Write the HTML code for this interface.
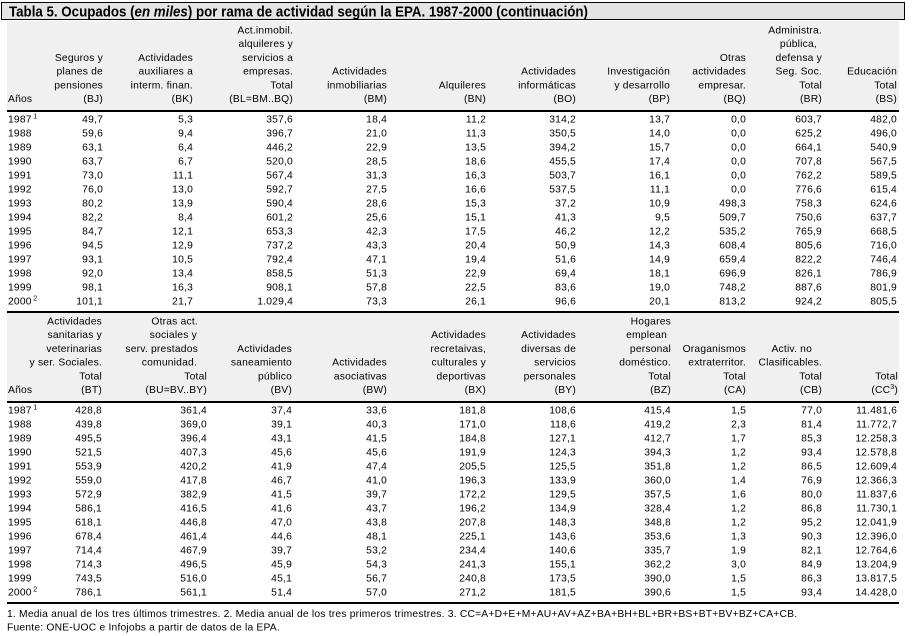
<!DOCTYPE html>
<html><head><meta charset="utf-8"><style>
html,body{margin:0;padding:0;background:#fff;}
svg{display:block;}
text{font-family:"Liberation Sans",Arial,sans-serif;font-size:10.3px;letter-spacing:0.2px;fill:#000;}
.e{text-anchor:end;}
.t{font-weight:bold;font-size:15px;letter-spacing:0;}
</style></head><body>
<svg width="912" height="636" viewBox="0 0 912 636" xmlns="http://www.w3.org/2000/svg">
<rect x="0" y="0" width="912" height="636" fill="#fff"/>
<rect x="1.5" y="2.5" width="903" height="17" fill="#e4e4e4" stroke="#000" stroke-width="1"/>
<text class="t" x="9" y="16.5" textLength="579" lengthAdjust="spacingAndGlyphs">Tabla 5. Ocupados (<tspan font-style="italic">en miles</tspan>) por rama de actividad según la EPA. 1987-2000 (continuación)</text>
<rect x="7" y="21" width="892" height="89" fill="#f0f0f0"/>
<rect x="7" y="313" width="892" height="88" fill="#f0f0f0"/>
<rect x="7" y="110" width="892" height="2" fill="#000"/>
<rect x="7" y="311" width="892" height="2" fill="#000"/>
<rect x="7" y="401" width="892" height="2" fill="#000"/>
<rect x="7" y="602" width="892" height="2" fill="#000"/>

<g>
<text x="8" y="102">Años</text>
<text class="e" x="103" y="60.9">Seguros y</text>
<text class="e" x="103" y="74.6">planes de</text>
<text class="e" x="103" y="88.3">pensiones</text>
<text class="e" x="103" y="102">(BJ)</text>
<text class="e" x="193" y="60.9">Actividades</text>
<text class="e" x="193" y="74.6">auxiliares a</text>
<text class="e" x="193" y="88.3">interm. finan.</text>
<text class="e" x="193" y="102">(BK)</text>
<text class="e" x="293" y="33.5">Act.inmobil.</text>
<text class="e" x="293" y="47.2">alquileres y</text>
<text class="e" x="293" y="60.9">servicios a</text>
<text class="e" x="293" y="74.6">empresas.</text>
<text class="e" x="293" y="88.3">Total</text>
<text class="e" x="293" y="102">(BL=BM..BQ)</text>
<text class="e" x="387" y="74.6">Actividades</text>
<text class="e" x="387" y="88.3">inmobiliarias</text>
<text class="e" x="387" y="102">(BM)</text>
<text class="e" x="486" y="88.3">Alquileres</text>
<text class="e" x="486" y="102">(BN)</text>
<text class="e" x="576" y="74.6">Actividades</text>
<text class="e" x="576" y="88.3">informáticas</text>
<text class="e" x="576" y="102">(BO)</text>
<text class="e" x="670" y="74.6">Investigación</text>
<text class="e" x="670" y="88.3">y desarrollo</text>
<text class="e" x="670" y="102">(BP)</text>
<text class="e" x="746" y="60.9">Otras</text>
<text class="e" x="746" y="74.6">actividades</text>
<text class="e" x="746" y="88.3">empresar.</text>
<text class="e" x="746" y="102">(BQ)</text>
<text class="e" x="822" y="33.5">Administra.</text>
<text class="e" x="817" y="47.2">pública,</text>
<text class="e" x="822" y="60.9">defensa y</text>
<text class="e" x="822" y="74.6">Seg. Soc.</text>
<text class="e" x="822" y="88.3">Total</text>
<text class="e" x="822" y="102">(BR)</text>
<text class="e" x="897" y="74.6">Educación</text>
<text class="e" x="897" y="88.3">Total</text>
<text class="e" x="897" y="102">(BS)</text>
</g>

<g transform="translate(0,122.5)"><text x="8" y="0">1987<tspan font-size="7" dx="1.5" dy="-4">1</tspan></text><text class="e" x="103" y="0">49,7</text><text class="e" x="193" y="0">5,3</text><text class="e" x="293" y="0">357,6</text><text class="e" x="387" y="0">18,4</text><text class="e" x="486" y="0">11,2</text><text class="e" x="576" y="0">314,2</text><text class="e" x="670" y="0">13,7</text><text class="e" x="746" y="0">0,0</text><text class="e" x="822" y="0">603,7</text><text class="e" x="897" y="0">482,0</text></g>
<g transform="translate(0,136.5)"><text x="8" y="0">1988</text><text class="e" x="103" y="0">59,6</text><text class="e" x="193" y="0">9,4</text><text class="e" x="293" y="0">396,7</text><text class="e" x="387" y="0">21,0</text><text class="e" x="486" y="0">11,3</text><text class="e" x="576" y="0">350,5</text><text class="e" x="670" y="0">14,0</text><text class="e" x="746" y="0">0,0</text><text class="e" x="822" y="0">625,2</text><text class="e" x="897" y="0">496,0</text></g>
<g transform="translate(0,150.5)"><text x="8" y="0">1989</text><text class="e" x="103" y="0">63,1</text><text class="e" x="193" y="0">6,4</text><text class="e" x="293" y="0">446,2</text><text class="e" x="387" y="0">22,9</text><text class="e" x="486" y="0">13,5</text><text class="e" x="576" y="0">394,2</text><text class="e" x="670" y="0">15,7</text><text class="e" x="746" y="0">0,0</text><text class="e" x="822" y="0">664,1</text><text class="e" x="897" y="0">540,9</text></g>
<g transform="translate(0,164.5)"><text x="8" y="0">1990</text><text class="e" x="103" y="0">63,7</text><text class="e" x="193" y="0">6,7</text><text class="e" x="293" y="0">520,0</text><text class="e" x="387" y="0">28,5</text><text class="e" x="486" y="0">18,6</text><text class="e" x="576" y="0">455,5</text><text class="e" x="670" y="0">17,4</text><text class="e" x="746" y="0">0,0</text><text class="e" x="822" y="0">707,8</text><text class="e" x="897" y="0">567,5</text></g>
<g transform="translate(0,178.5)"><text x="8" y="0">1991</text><text class="e" x="103" y="0">73,0</text><text class="e" x="193" y="0">11,1</text><text class="e" x="293" y="0">567,4</text><text class="e" x="387" y="0">31,3</text><text class="e" x="486" y="0">16,3</text><text class="e" x="576" y="0">503,7</text><text class="e" x="670" y="0">16,1</text><text class="e" x="746" y="0">0,0</text><text class="e" x="822" y="0">762,2</text><text class="e" x="897" y="0">589,5</text></g>
<g transform="translate(0,192.5)"><text x="8" y="0">1992</text><text class="e" x="103" y="0">76,0</text><text class="e" x="193" y="0">13,0</text><text class="e" x="293" y="0">592,7</text><text class="e" x="387" y="0">27,5</text><text class="e" x="486" y="0">16,6</text><text class="e" x="576" y="0">537,5</text><text class="e" x="670" y="0">11,1</text><text class="e" x="746" y="0">0,0</text><text class="e" x="822" y="0">776,6</text><text class="e" x="897" y="0">615,4</text></g>
<g transform="translate(0,206.5)"><text x="8" y="0">1993</text><text class="e" x="103" y="0">80,2</text><text class="e" x="193" y="0">13,9</text><text class="e" x="293" y="0">590,4</text><text class="e" x="387" y="0">28,6</text><text class="e" x="486" y="0">15,3</text><text class="e" x="576" y="0">37,2</text><text class="e" x="670" y="0">10,9</text><text class="e" x="746" y="0">498,3</text><text class="e" x="822" y="0">758,3</text><text class="e" x="897" y="0">624,6</text></g>
<g transform="translate(0,220.5)"><text x="8" y="0">1994</text><text class="e" x="103" y="0">82,2</text><text class="e" x="193" y="0">8,4</text><text class="e" x="293" y="0">601,2</text><text class="e" x="387" y="0">25,6</text><text class="e" x="486" y="0">15,1</text><text class="e" x="576" y="0">41,3</text><text class="e" x="670" y="0">9,5</text><text class="e" x="746" y="0">509,7</text><text class="e" x="822" y="0">750,6</text><text class="e" x="897" y="0">637,7</text></g>
<g transform="translate(0,234.5)"><text x="8" y="0">1995</text><text class="e" x="103" y="0">84,7</text><text class="e" x="193" y="0">12,1</text><text class="e" x="293" y="0">653,3</text><text class="e" x="387" y="0">42,3</text><text class="e" x="486" y="0">17,5</text><text class="e" x="576" y="0">46,2</text><text class="e" x="670" y="0">12,2</text><text class="e" x="746" y="0">535,2</text><text class="e" x="822" y="0">765,9</text><text class="e" x="897" y="0">668,5</text></g>
<g transform="translate(0,248.5)"><text x="8" y="0">1996</text><text class="e" x="103" y="0">94,5</text><text class="e" x="193" y="0">12,9</text><text class="e" x="293" y="0">737,2</text><text class="e" x="387" y="0">43,3</text><text class="e" x="486" y="0">20,4</text><text class="e" x="576" y="0">50,9</text><text class="e" x="670" y="0">14,3</text><text class="e" x="746" y="0">608,4</text><text class="e" x="822" y="0">805,6</text><text class="e" x="897" y="0">716,0</text></g>
<g transform="translate(0,262.5)"><text x="8" y="0">1997</text><text class="e" x="103" y="0">93,1</text><text class="e" x="193" y="0">10,5</text><text class="e" x="293" y="0">792,4</text><text class="e" x="387" y="0">47,1</text><text class="e" x="486" y="0">19,4</text><text class="e" x="576" y="0">51,6</text><text class="e" x="670" y="0">14,9</text><text class="e" x="746" y="0">659,4</text><text class="e" x="822" y="0">822,2</text><text class="e" x="897" y="0">746,4</text></g>
<g transform="translate(0,276.5)"><text x="8" y="0">1998</text><text class="e" x="103" y="0">92,0</text><text class="e" x="193" y="0">13,4</text><text class="e" x="293" y="0">858,5</text><text class="e" x="387" y="0">51,3</text><text class="e" x="486" y="0">22,9</text><text class="e" x="576" y="0">69,4</text><text class="e" x="670" y="0">18,1</text><text class="e" x="746" y="0">696,9</text><text class="e" x="822" y="0">826,1</text><text class="e" x="897" y="0">786,9</text></g>
<g transform="translate(0,290.5)"><text x="8" y="0">1999</text><text class="e" x="103" y="0">98,1</text><text class="e" x="193" y="0">16,3</text><text class="e" x="293" y="0">908,1</text><text class="e" x="387" y="0">57,8</text><text class="e" x="486" y="0">22,5</text><text class="e" x="576" y="0">83,6</text><text class="e" x="670" y="0">19,0</text><text class="e" x="746" y="0">748,2</text><text class="e" x="822" y="0">887,6</text><text class="e" x="897" y="0">801,9</text></g>
<g transform="translate(0,304.5)"><text x="8" y="0">2000<tspan font-size="7" dx="1.5" dy="-4">2</tspan></text><text class="e" x="103" y="0">101,1</text><text class="e" x="193" y="0">21,7</text><text class="e" x="293" y="0">1.029,4</text><text class="e" x="387" y="0">73,3</text><text class="e" x="486" y="0">26,1</text><text class="e" x="576" y="0">96,6</text><text class="e" x="670" y="0">20,1</text><text class="e" x="746" y="0">813,2</text><text class="e" x="822" y="0">924,2</text><text class="e" x="897" y="0">805,5</text></g>

<g transform="translate(0,291)">
<text x="8" y="102">Años</text>
<text class="e" x="102" y="33.5">Actividades</text>
<text class="e" x="102" y="47.2">sanitarias y</text>
<text class="e" x="102" y="60.9">veterinarias</text>
<text class="e" x="102" y="74.6">y ser. Sociales.</text>
<text class="e" x="102" y="88.3">Total</text>
<text class="e" x="102" y="102">(BT)</text>
<text class="e" x="198" y="33.5">Otras act.</text>
<text class="e" x="197" y="47.2">sociales y</text>
<text class="e" x="198" y="60.9">serv. prestados</text>
<text class="e" x="197" y="74.6">comunidad.</text>
<text class="e" x="207" y="88.3">Total</text>
<text class="e" x="207" y="102">(BU=BV..BY)</text>
<text class="e" x="292" y="60.9">Actividades</text>
<text class="e" x="292" y="74.6">saneamiento</text>
<text class="e" x="292" y="88.3">público</text>
<text class="e" x="292" y="102">(BV)</text>
<text class="e" x="387" y="74.6">Actividades</text>
<text class="e" x="387" y="88.3">asociativas</text>
<text class="e" x="387" y="102">(BW)</text>
<text class="e" x="486" y="47.2">Actividades</text>
<text class="e" x="486" y="60.9">recretaivas,</text>
<text class="e" x="486" y="74.6">culturales y</text>
<text class="e" x="486" y="88.3">deportivas</text>
<text class="e" x="486" y="102">(BX)</text>
<text class="e" x="576" y="47.2">Actividades</text>
<text class="e" x="576" y="60.9">diversas de</text>
<text class="e" x="576" y="74.6">servicios</text>
<text class="e" x="576" y="88.3">personales</text>
<text class="e" x="576" y="102">(BY)</text>
<text class="e" x="671" y="33.5">Hogares</text>
<text class="e" x="667" y="47.2">emplean</text>
<text class="e" x="671" y="60.9">personal</text>
<text class="e" x="671" y="74.6">doméstico.</text>
<text class="e" x="671" y="88.3">Total</text>
<text class="e" x="671" y="102">(BZ)</text>
<text class="e" x="746" y="60.9">Oraganismos</text>
<text class="e" x="746" y="74.6">extraterritor.</text>
<text class="e" x="746" y="88.3">Total</text>
<text class="e" x="746" y="102">(CA)</text>
<text class="e" x="812" y="60.9">Activ. no</text>
<text class="e" x="822" y="74.6">Clasificables.</text>
<text class="e" x="822" y="88.3">Total</text>
<text class="e" x="822" y="102">(CB)</text>
<text class="e" x="898" y="88.3">Total</text>
<text class="e" x="898" y="102">(CC<tspan font-size="7" dy="-4">3</tspan><tspan dy="4">)</tspan></text>
</g>

<g transform="translate(0,413.5)"><text x="8" y="0">1987<tspan font-size="7" dx="1.5" dy="-4">1</tspan></text><text class="e" x="102" y="0">428,8</text><text class="e" x="207" y="0">361,4</text><text class="e" x="292" y="0">37,4</text><text class="e" x="387" y="0">33,6</text><text class="e" x="486" y="0">181,8</text><text class="e" x="576" y="0">108,6</text><text class="e" x="671" y="0">415,4</text><text class="e" x="746" y="0">1,5</text><text class="e" x="822" y="0">77,0</text><text class="e" x="897" y="0">11.481,6</text></g>
<g transform="translate(0,427.5)"><text x="8" y="0">1988</text><text class="e" x="102" y="0">439,8</text><text class="e" x="207" y="0">369,0</text><text class="e" x="292" y="0">39,1</text><text class="e" x="387" y="0">40,3</text><text class="e" x="486" y="0">171,0</text><text class="e" x="576" y="0">118,6</text><text class="e" x="671" y="0">419,2</text><text class="e" x="746" y="0">2,3</text><text class="e" x="822" y="0">81,4</text><text class="e" x="897" y="0">11.772,7</text></g>
<g transform="translate(0,441.5)"><text x="8" y="0">1989</text><text class="e" x="102" y="0">495,5</text><text class="e" x="207" y="0">396,4</text><text class="e" x="292" y="0">43,1</text><text class="e" x="387" y="0">41,5</text><text class="e" x="486" y="0">184,8</text><text class="e" x="576" y="0">127,1</text><text class="e" x="671" y="0">412,7</text><text class="e" x="746" y="0">1,7</text><text class="e" x="822" y="0">85,3</text><text class="e" x="897" y="0">12.258,3</text></g>
<g transform="translate(0,455.5)"><text x="8" y="0">1990</text><text class="e" x="102" y="0">521,5</text><text class="e" x="207" y="0">407,3</text><text class="e" x="292" y="0">45,6</text><text class="e" x="387" y="0">45,6</text><text class="e" x="486" y="0">191,9</text><text class="e" x="576" y="0">124,3</text><text class="e" x="671" y="0">394,3</text><text class="e" x="746" y="0">1,2</text><text class="e" x="822" y="0">93,4</text><text class="e" x="897" y="0">12.578,8</text></g>
<g transform="translate(0,469.5)"><text x="8" y="0">1991</text><text class="e" x="102" y="0">553,9</text><text class="e" x="207" y="0">420,2</text><text class="e" x="292" y="0">41,9</text><text class="e" x="387" y="0">47,4</text><text class="e" x="486" y="0">205,5</text><text class="e" x="576" y="0">125,5</text><text class="e" x="671" y="0">351,8</text><text class="e" x="746" y="0">1,2</text><text class="e" x="822" y="0">86,5</text><text class="e" x="897" y="0">12.609,4</text></g>
<g transform="translate(0,483.5)"><text x="8" y="0">1992</text><text class="e" x="102" y="0">559,0</text><text class="e" x="207" y="0">417,8</text><text class="e" x="292" y="0">46,7</text><text class="e" x="387" y="0">41,0</text><text class="e" x="486" y="0">196,3</text><text class="e" x="576" y="0">133,9</text><text class="e" x="671" y="0">360,0</text><text class="e" x="746" y="0">1,4</text><text class="e" x="822" y="0">76,9</text><text class="e" x="897" y="0">12.366,3</text></g>
<g transform="translate(0,497.5)"><text x="8" y="0">1993</text><text class="e" x="102" y="0">572,9</text><text class="e" x="207" y="0">382,9</text><text class="e" x="292" y="0">41,5</text><text class="e" x="387" y="0">39,7</text><text class="e" x="486" y="0">172,2</text><text class="e" x="576" y="0">129,5</text><text class="e" x="671" y="0">357,5</text><text class="e" x="746" y="0">1,6</text><text class="e" x="822" y="0">80,0</text><text class="e" x="897" y="0">11.837,6</text></g>
<g transform="translate(0,511.5)"><text x="8" y="0">1994</text><text class="e" x="102" y="0">586,1</text><text class="e" x="207" y="0">416,5</text><text class="e" x="292" y="0">41,6</text><text class="e" x="387" y="0">43,7</text><text class="e" x="486" y="0">196,2</text><text class="e" x="576" y="0">134,9</text><text class="e" x="671" y="0">328,4</text><text class="e" x="746" y="0">1,2</text><text class="e" x="822" y="0">86,8</text><text class="e" x="897" y="0">11.730,1</text></g>
<g transform="translate(0,525.5)"><text x="8" y="0">1995</text><text class="e" x="102" y="0">618,1</text><text class="e" x="207" y="0">446,8</text><text class="e" x="292" y="0">47,0</text><text class="e" x="387" y="0">43,8</text><text class="e" x="486" y="0">207,8</text><text class="e" x="576" y="0">148,3</text><text class="e" x="671" y="0">348,8</text><text class="e" x="746" y="0">1,2</text><text class="e" x="822" y="0">95,2</text><text class="e" x="897" y="0">12.041,9</text></g>
<g transform="translate(0,539.5)"><text x="8" y="0">1996</text><text class="e" x="102" y="0">678,4</text><text class="e" x="207" y="0">461,4</text><text class="e" x="292" y="0">44,6</text><text class="e" x="387" y="0">48,1</text><text class="e" x="486" y="0">225,1</text><text class="e" x="576" y="0">143,6</text><text class="e" x="671" y="0">353,6</text><text class="e" x="746" y="0">1,3</text><text class="e" x="822" y="0">90,3</text><text class="e" x="897" y="0">12.396,0</text></g>
<g transform="translate(0,553.5)"><text x="8" y="0">1997</text><text class="e" x="102" y="0">714,4</text><text class="e" x="207" y="0">467,9</text><text class="e" x="292" y="0">39,7</text><text class="e" x="387" y="0">53,2</text><text class="e" x="486" y="0">234,4</text><text class="e" x="576" y="0">140,6</text><text class="e" x="671" y="0">335,7</text><text class="e" x="746" y="0">1,9</text><text class="e" x="822" y="0">82,1</text><text class="e" x="897" y="0">12.764,6</text></g>
<g transform="translate(0,567.5)"><text x="8" y="0">1998</text><text class="e" x="102" y="0">714,3</text><text class="e" x="207" y="0">496,5</text><text class="e" x="292" y="0">45,9</text><text class="e" x="387" y="0">54,3</text><text class="e" x="486" y="0">241,3</text><text class="e" x="576" y="0">155,1</text><text class="e" x="671" y="0">362,2</text><text class="e" x="746" y="0">3,0</text><text class="e" x="822" y="0">84,9</text><text class="e" x="897" y="0">13.204,9</text></g>
<g transform="translate(0,581.5)"><text x="8" y="0">1999</text><text class="e" x="102" y="0">743,5</text><text class="e" x="207" y="0">516,0</text><text class="e" x="292" y="0">45,1</text><text class="e" x="387" y="0">56,7</text><text class="e" x="486" y="0">240,8</text><text class="e" x="576" y="0">173,5</text><text class="e" x="671" y="0">390,0</text><text class="e" x="746" y="0">1,5</text><text class="e" x="822" y="0">86,3</text><text class="e" x="897" y="0">13.817,5</text></g>
<g transform="translate(0,595.5)"><text x="8" y="0">2000<tspan font-size="7" dx="1.5" dy="-4">2</tspan></text><text class="e" x="102" y="0">786,1</text><text class="e" x="207" y="0">561,1</text><text class="e" x="292" y="0">51,4</text><text class="e" x="387" y="0">57,0</text><text class="e" x="486" y="0">271,2</text><text class="e" x="576" y="0">181,5</text><text class="e" x="671" y="0">390,6</text><text class="e" x="746" y="0">1,5</text><text class="e" x="822" y="0">93,4</text><text class="e" x="897" y="0">14.428,0</text></g>

<text x="7" y="617">1. Media anual de los tres últimos trimestres. 2. Media anual de los tres primeros trimestres. 3. CC=A+D+E+M+AU+AV+AZ+BA+BH+BL+BR+BS+BT+BV+BZ+CA+CB.</text>
<text x="7" y="630.5">Fuente: ONE-UOC e Infojobs a partir de datos de la EPA.</text>
</svg>
</body></html>
